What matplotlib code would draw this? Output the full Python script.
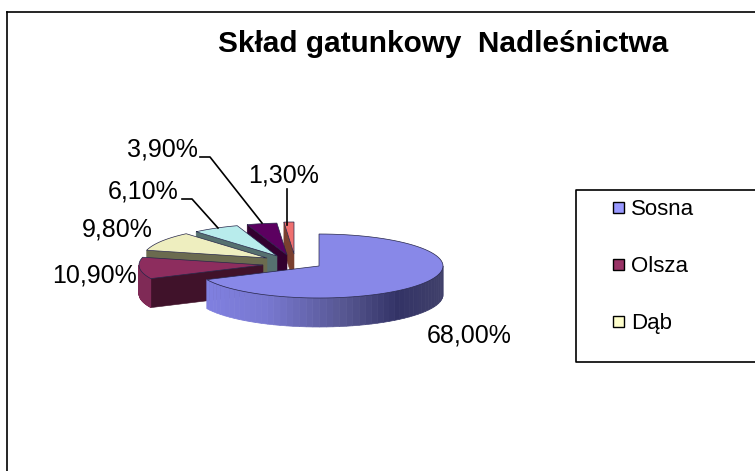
import numpy as np
import matplotlib
matplotlib.use('Agg')
import matplotlib.pyplot as plt
from matplotlib.patches import Rectangle
from matplotlib.colors import to_rgb

plt.rcParams['font.family'] = ['Liberation Sans', 'DejaVu Sans']

# dane
values = [68.0, 10.9, 9.8, 6.1, 3.9, 1.3]
labels = ['68,00%', '10,90%', '9,80%', '6,10%', '3,90%', '1,30%']
legend_names = ['Sosna', 'Olsza', 'Dąb']
legend_colors = ['#9999ff', '#993366', '#ffffcc']

top_colors = ['#8888e8', '#8d2d5e', '#eeeebf', '#b8ecec', '#5c0060', '#ef7070']
wall_colors = ['#8080e0', '#7f2a56', '#6b6b4f', '#56706f', '#33002f', '#7a4030']
side_colors = ['#333366', '#40122a', '#6b6b4f', '#56706f', '#33002f', '#7a4030']

# przesuniecie wycinkow (px)
shift_x = [0, -56, -52, -42, -32, -25]
shift_y = [0, -1, -8, -10, -11, -12]

cx, cy = 319, 266
rx, ry = 124, 32
depth = 29

fig = plt.figure(figsize=(7.55, 4.71), dpi=100)
ax = fig.add_axes([0, 0, 1, 1])
ax.set_xlim(0, 755)
ax.set_ylim(471, 0)
ax.axis('off')

edges = np.cumsum([0] + values) * 3.6


def rim(a, sx, sy):
    r = np.radians(a)
    return cx + sx + rx * np.sin(r), cy + sy - ry * np.cos(r)


def sosna_shade(x):
    stops = [208, 270, 350, 400, 443]
    cols = np.array([to_rgb(c) for c in ['#8080e0', '#7878d0', '#55558f', '#333366', '#40406a']])
    return [np.interp(x, stops, cols[:, i]) for i in range(3)]


# od tylu do przodu: najpierw male wycinki, Sosna na koncu
for i in [5, 4, 3, 2, 1, 0]:
    a0, a1 = edges[i], edges[i + 1]
    sx, sy = shift_x[i], shift_y[i]
    ax0, ay0 = cx + sx, cy + sy
    angles = np.linspace(a0, a1, 80)
    pts = np.array([rim(a, sx, sy) for a in angles])

    # sciana radialna
    x0, y0 = rim(a0, sx, sy)
    ax.fill([ax0, x0, x0, ax0], [ay0, y0, y0 + depth, ay0 + depth],
            color=side_colors[i], lw=0.4, zorder=10 + 3 * (5 - i))

    # sciana zewnetrzna
    for j in range(len(angles) - 1):
        mid = (angles[j] + angles[j + 1]) / 2
        if 90 < mid < 270:
            c = sosna_shade(pts[j, 0]) if i == 0 else wall_colors[i]
            ax.fill([pts[j, 0], pts[j + 1, 0], pts[j + 1, 0], pts[j, 0]],
                    [pts[j, 1], pts[j + 1, 1], pts[j + 1, 1] + depth, pts[j, 1] + depth],
                    color=c, lw=0.5, zorder=11 + 3 * (5 - i))

    # wierzch
    ax.fill(np.r_[ax0, pts[:, 0]], np.r_[ay0, pts[:, 1]], facecolor=top_colors[i],
            edgecolor='#26264a', lw=0.5, zorder=12 + 3 * (5 - i))

# etykiety i linie
ax.plot([200, 210, 262], [157, 157, 223], color='black', lw=1.2, zorder=40)
ax.plot([182, 192, 218], [199, 199, 228], color='black', lw=1.2, zorder=40)
ax.plot([287, 287], [189, 225], color='black', lw=1.2, zorder=40)

label_pos = [(427, 335), (52, 275), (82, 230), (108, 192), (127, 150), (248, 176)]
for txt, (x, y) in zip(labels, label_pos):
    ax.text(x, y, txt, fontsize=18, ha='left', va='center', color='black', zorder=41)

ax.text(218, 52.5, 'Skład gatunkowy  Nadleśnictwa', fontsize=21.4, fontweight='bold',
        ha='left', va='baseline', color='black')

# ramka wykresu
ax.plot([7, 7], [471, 12], color='black', lw=1.2, clip_on=True)
ax.plot([7, 755], [12, 12], color='black', lw=1.2, clip_on=True)

# legenda (ucieta z prawej)
ax.plot([755, 576, 576, 755], [190, 190, 362, 362], color='black', lw=1.2)
for n, c, y in zip(legend_names, legend_colors, [207, 264, 321]):
    ax.add_patch(Rectangle((613, y - 5.5), 11, 11, facecolor=c, edgecolor='black', lw=1))
    ax.text(631, y + 8, n, fontsize=16, ha='left', va='baseline', color='black')

fig.savefig('out.png', dpi=100)
